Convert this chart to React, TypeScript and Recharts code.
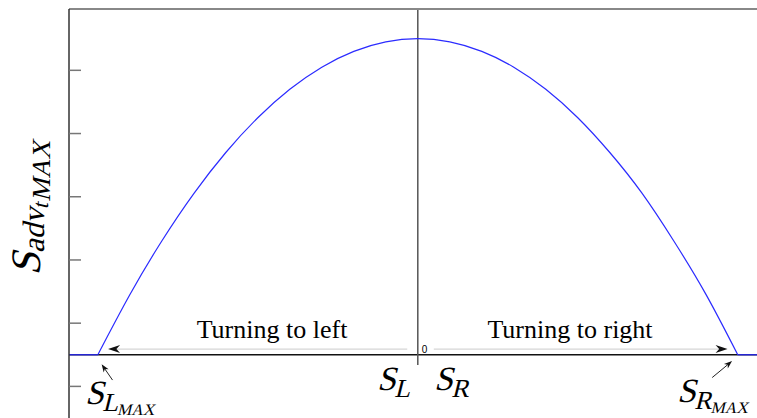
import React from "react";
import { LineChart, Line, XAxis, YAxis, ReferenceLine } from "recharts";

// Steering position, normalised so that S_LMAX = -1 and S_RMAX = 1
const curveS = [-1, -0.9, -0.8, -0.7, -0.6, -0.5, -0.4, -0.3, -0.2, -0.1, 0, 0.1, 0.2, 0.3, 0.4, 0.5, 0.6, 0.7, 0.8, 0.9, 1];
const curveV = [0, 0.95, 1.8, 2.55, 3.2, 3.75, 4.2, 4.55, 4.8, 4.95, 5, 4.95, 4.8, 4.55, 4.2, 3.75, 3.2, 2.56, 1.8, 0.96, 0];

// flat parts beyond the limits
const leftTailS = [-1.09, -1];
const rightTailS = [1, 1.06];
const tailV = [0, 0];

const yTicks = [-0.5, 0.5, 1.5, 2.5, 3.5, 4.5];

const toRows = (s: number[], v: number[]) => s.map((x, i) => ({ s: x, v: v[i] }));

const curve = toRows(curveS, curveV);
const leftTail = toRows(leftTailS, tailV);
const rightTail = toRows(rightTailS, tailV);

const W = 757;
const H = 418;
const serif = "'Liberation Serif', 'Times New Roman', serif";
const blue = "#2b2bff";

function Arrow(props: any) {
  const { x1, y1, x2, y2, head = 12, half = 4, stroke = "#666", headFill = "#111" } = props;
  const a = Math.atan2(y2 - y1, x2 - x1);
  const c = Math.cos(a);
  const s = Math.sin(a);
  const bx = x2 - head * c;
  const by = y2 - head * s;
  const nx = x2 - head * 0.7 * c;
  const ny = y2 - head * 0.7 * s;
  const d = `M${x2},${y2} L${bx - half * s},${by + half * c} L${nx},${ny} L${bx + half * s},${by - half * c} Z`;
  return (
    <g>
      <line x1={x1} y1={y1} x2={nx} y2={ny} stroke={stroke} strokeWidth={props.strokeWidth ?? 1.5} />
      <path d={d} fill={headFill} />
    </g>
  );
}

// the serif face has no italic here, so slant the upright one
function Slanted({ x, y, rotate = 0, anchor = "start", children }: any) {
  return (
    <g transform={`translate(${x},${y}) rotate(${rotate}) skewX(-14)`}>
      <text x={0} y={0} textAnchor={anchor} fontFamily={serif} fill="#000">
        {children}
      </text>
    </g>
  );
}

export default function App() {
  return (
    <div style={{ position: "absolute", left: 0, top: 0, width: W, height: H, background: "#fff" }}>
      <LineChart width={W} height={H} margin={{ top: 8, right: 0, bottom: 0, left: 69 }}>
        <XAxis
          type="number"
          dataKey="s"
          orientation="top"
          domain={[-1.09, 1.06]}
          allowDataOverflow
          height={1}
          tick={false}
          tickLine={false}
          axisLine={{ stroke: "#888", strokeWidth: 2 }}
        />
        <YAxis
          type="number"
          domain={[-1, 5.47]}
          allowDataOverflow
          ticks={yTicks}
          width={1}
          mirror
          tickSize={12}
          tickFormatter={() => ""}
          tickLine={{ stroke: "#777", strokeWidth: 1.5 }}
          axisLine={{ stroke: "#333", strokeWidth: 1.5 }}
        />
        <ReferenceLine y={0} stroke="#111" strokeWidth={1.5} />
        <ReferenceLine
          segment={[{ x: 0, y: -0.16 }, { x: 0, y: 5.47 }]}
          stroke="#555"
          strokeWidth={1.5}
        />
        <ReferenceLine segment={[{ x: -0.033, y: 0.09 }, { x: -0.968, y: 0.09 }]} shape={(p: any) => <Arrow {...p} />} />
        <ReferenceLine segment={[{ x: 0.05, y: 0.09 }, { x: 0.968, y: 0.09 }]} shape={(p: any) => <Arrow {...p} />} />
        <ReferenceLine
          segment={[{ x: -0.954, y: -0.4 }, { x: -0.988, y: -0.15 }]}
          shape={(p: any) => <Arrow {...p} head={8} half={3} stroke="#222" strokeWidth={1} />}
        />
        <ReferenceLine
          segment={[{ x: 0.92, y: -0.36 }, { x: 0.982, y: -0.1 }]}
          shape={(p: any) => <Arrow {...p} head={8} half={3} stroke="#222" strokeWidth={1} />}
        />
        <Line data={leftTail} dataKey="v" type="linear" stroke={blue} strokeWidth={1.2} dot={false} isAnimationActive={false} />
        <Line data={rightTail} dataKey="v" type="linear" stroke={blue} strokeWidth={1.2} dot={false} isAnimationActive={false} />
        <Line data={curve} dataKey="v" type="natural" stroke={blue} strokeWidth={1.2} dot={false} isAnimationActive={false} />
      </LineChart>

      <svg width={W} height={H} style={{ position: "absolute", left: 0, top: 0, pointerEvents: "none" }}>
        <Slanted x={40} y={207} rotate={-90} anchor="middle">
          <tspan fontSize={42}>S</tspan>
          <tspan fontSize={31} dy={4}>adv</tspan>
          <tspan fontSize={22} dy={4}>t</tspan>
          <tspan fontSize={26} dx={2} dy={2}>MAX</tspan>
        </Slanted>

        <text x={272} y={338} textAnchor="middle" fontFamily={serif} fontSize={26} fill="#000">
          Turning to left
        </text>
        <text x={570} y={338} textAnchor="middle" fontFamily={serif} fontSize={26} fill="#000">
          Turning to right
        </text>
        <text x={424.5} y={353} textAnchor="middle" fontFamily="'Liberation Sans', Arial, sans-serif" fontSize={10} fill="#000">
          0
        </text>

        <Slanted x={377} y={390}>
          <tspan fontSize={34}>S</tspan>
          <tspan fontSize={26} dy={7}>L</tspan>
        </Slanted>
        <Slanted x={434} y={390}>
          <tspan fontSize={34}>S</tspan>
          <tspan fontSize={26} dy={7}>R</tspan>
        </Slanted>
        <Slanted x={85} y={404}>
          <tspan fontSize={34}>S</tspan>
          <tspan fontSize={26} dy={7}>L</tspan>
          <tspan fontSize={16} dy={4}>MAX</tspan>
        </Slanted>
        <Slanted x={677} y={402}>
          <tspan fontSize={34}>S</tspan>
          <tspan fontSize={26} dy={7}>R</tspan>
          <tspan fontSize={16} dy={4}>MAX</tspan>
        </Slanted>
      </svg>
    </div>
  );
}
